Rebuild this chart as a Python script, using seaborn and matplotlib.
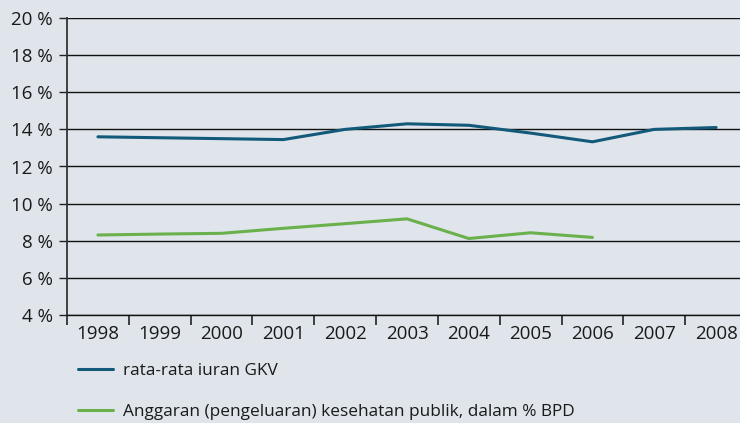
import pandas as pd
import numpy as np
import matplotlib
matplotlib.use("Agg")
import matplotlib.pyplot as plt
import seaborn as sns

# data
years = [1998, 1999, 2000, 2001, 2002, 2003, 2004, 2005, 2006, 2007, 2008]
gkv = [13.6, 13.55, 13.5, 13.45, 14.0, 14.3, 14.22, 13.8, 13.33, 14.0, 14.1]
years_bpd = [1998, 1999, 2000, 2001, 2002, 2003, 2004, 2005, 2006]
bpd = [8.31, 8.36, 8.4, 8.67, 8.92, 9.18, 8.12, 8.43, 8.18]
label_gkv = "rata-rata iuran GKV"
label_bpd = "Anggaran (pengeluaran) kesehatan publik, dalam % BPD"

bg = "#dfe5eb"
sns.set_theme(style="white")
plt.rcParams['font.family'] = ['Open Sans', 'DejaVu Sans']

fig = plt.figure(figsize=(7.4, 4.23), dpi=100, facecolor=bg)
ax = fig.add_axes([67/740, 108/423, 680/740, 297/423])
ax.set_facecolor(bg)

df1 = pd.DataFrame({"tahun": years, "nilai": gkv})
df2 = pd.DataFrame({"tahun": years_bpd, "nilai": bpd})
sns.lineplot(data=df1, x="tahun", y="nilai", ax=ax, color="#13597a", lw=2.2, label=label_gkv)
sns.lineplot(data=df2, x="tahun", y="nilai", ax=ax, color="#6ab04c", lw=2.2, label=label_bpd)

ax.set_xlim(1997.5, 2008.5)
ax.set_ylim(4, 20)
ax.set_yticks(range(4, 21, 2))
ax.set_yticklabels([f"{v} %" for v in range(4, 21, 2)])
ax.set_xticks(years)
ax.set_xticklabels([str(y) for y in years])
ax.set_xticks(np.arange(1997.5, 2008.5, 1.0), minor=True)
ax.tick_params(axis="x", which="major", length=0, labelsize=13.5, colors="#1a1a1a", pad=7)
ax.tick_params(axis="x", which="minor", length=7, width=1.2, color="#222222", direction="out", bottom=True)
ax.tick_params(axis="y", length=6, width=1, color="#222222", left=True, labelsize=13.5, colors="#1a1a1a", pad=4)
ax.grid(axis="y", color="#111111", lw=1)
ax.set_axisbelow(True)
for s in ["top", "right"]:
    ax.spines[s].set_visible(False)
ax.spines["left"].set_color("#333333")
ax.spines["left"].set_linewidth(1.3)
ax.spines["bottom"].set_color("#111111")
ax.spines["bottom"].set_linewidth(1)
ax.set_xlabel("")
ax.set_ylabel("")

ax.legend(loc="upper left", bbox_to_anchor=(78/740, 1 - 363/423), bbox_transform=fig.transFigure,
          frameon=False, fontsize=12.4, handlelength=2.05, handletextpad=0.55, labelspacing=1.47,
          borderpad=0, borderaxespad=0, labelcolor="#1a1a1a")

fig.savefig("out.png", dpi=100, facecolor=bg)
